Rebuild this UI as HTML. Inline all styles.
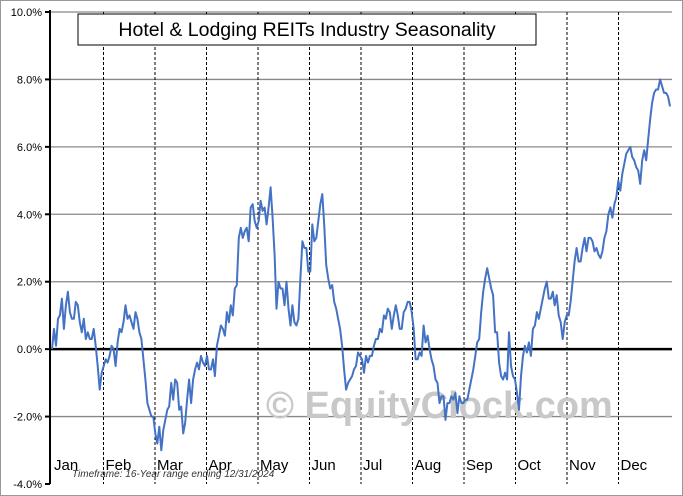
<!DOCTYPE html>
<html><head><meta charset="utf-8"><style>
body{margin:0;background:#fff}
svg{display:block;font-family:"Liberation Sans",sans-serif}
</style></head><body>
<svg width="683" height="496" id="c">
<rect x="0.5" y="0.5" width="682" height="495" fill="#fff" stroke="#999"/>
<g id="grid"></g>
<text x="266" y="418" font-size="38" font-weight="bold" fill="#c8c8c8">© EquityClock.com</text>
<g id="plot"></g>
<rect x="78" y="14" width="458" height="31" fill="#fff" stroke="#000"/>
<text x="307" y="36" font-size="19.5" text-anchor="middle">Hotel &amp; Lodging REITs Industry Seasonality</text>
<text x="72" y="477" font-size="10" font-style="italic" fill="#333">Timeframe:  16-Year range ending 12/31/2024</text>
</svg>
<script>
const months=["Jan","Feb","Mar","Apr","May","Jun","Jul","Aug","Sep","Oct","Nov","Dec"];
const yTicks=[-4,-2,0,2,4,6,8,10];
const values=[0,0.6,0.1,0.9,1.0,1.5,0.6,1.3,1.7,1.1,0.9,0.9,1.4,1.3,0.8,0.5,0.9,0.3,0.5,0.3,0.3,0.6,0.1,-0.5,-1.2,-0.7,
-0.5,-0.3,-0.4,-0.2,0.1,0,-0.5,0.2,0.6,0.5,0.8,1.3,0.9,1.0,0.8,0.6,1.1,0.9,0.5,0.3,-0.3,-0.9,-1.6,-1.8,-2.0,-2.0,
-2.5,-2.8,-2.3,-3.0,-2.4,-2.1,-1.8,-1.7,-1.0,-1.5,-0.9,-1.0,-1.8,-1.7,-2.5,-2.2,-1.5,-0.9,-1.6,-0.9,-0.6,-0.4,-0.6,-0.2,-0.4,-0.5,
-0.2,-0.6,-0.6,-0.3,-0.8,0.1,0.4,0.7,0.6,0.4,1.1,0.8,1.3,1.0,1.8,1.9,3.3,3.6,3.3,3.5,3.6,3.2,4.2,4.3,3.8,3.6,
3.8,4.4,4.1,4.2,3.7,4.2,4.8,3.9,2.8,1.2,2.0,1.8,1.8,1.3,2.0,1.2,0.7,1.3,0.8,0.7,0.9,2.1,3.2,3.0,3.0,2.3,
2.3,3.7,3.2,3.3,3.8,4.3,4.6,3.7,2.5,2.1,1.8,1.9,1.4,1.2,0.9,0.6,0.1,-0.6,-1.2,-1.0,-0.9,-0.8,-0.6,-0.5,-0.1,-0.2,
-0.3,-0.7,-0.2,-0.4,-0.2,-0.2,0.1,0.3,0.3,0.6,0.5,1.0,0.9,1.2,1.1,0.6,1.0,1.3,1.0,0.6,0.6,1.1,1.2,1.4,1.4,1.1,
0.6,-0.3,-0.3,-0.1,-0.2,0.7,0.2,0.4,0.0,-0.3,-0.5,-0.9,-1.0,-1.6,-1.4,-1.4,-2.1,-1.6,-1.6,-1.4,-1.5,-1.3,-1.9,-1.4,-1.6,-1.6,
-1.5,-1.5,-1.2,-0.9,-0.6,-0.2,0.2,0.3,1.1,1.7,2.1,2.4,2.1,1.8,1.6,0.5,0.5,-0.4,-0.8,-0.9,-0.7,-0.9,0.5,-0.5,-0.8,-0.9,
-1.3,-1.8,-0.8,-0.2,0.1,-0.1,0.2,-0.2,0.6,0.7,1.1,0.9,1.2,1.5,1.8,2.0,1.5,1.5,1.7,1.3,1.6,1.0,0.8,0.3,0.8,1.0,
1.0,1.4,2.0,2.6,3.0,2.6,2.6,3.0,3.3,2.9,3.3,3.3,3.2,2.9,3.0,2.8,2.7,2.9,3.3,3.5,4.0,4.2,3.9,4.3,4.5,5.0,
4.7,5.2,5.5,5.8,5.9,6.0,5.7,5.6,5.4,5.3,4.9,5.6,5.9,5.6,6.2,6.8,7.3,7.6,7.7,7.7,8.0,7.8,7.6,7.6,7.5,7.2];
const L=50,R=672,T=12,B=484,X0=52,X1=670;
const y=v=>B-(v-(-4))/14*(B-T);
const x=i=>X0+i*(X1-X0)/(values.length-1);
const mx=m=>X0+m*(X1-X0)/12;
const NS="http://www.w3.org/2000/svg";
const g=document.getElementById('grid'),p=document.getElementById('plot');
function mk(tag,at,par){const e=document.createElementNS(NS,tag);for(const k in at)e.setAttribute(k,at[k]);par.appendChild(e);return e;}
yTicks.forEach(t=>{
  if(t!==0&&t!==-4){const l=mk('line',{x1:L,x2:R,y1:y(t),y2:y(t),stroke:'#888','stroke-width':1.3},g);
  
  }
  const tk=mk('line',{x1:L-5,x2:L,y1:y(t),y2:y(t),stroke:'#000','stroke-width':2},g);
  
  
  const tx=mk('text',{x:L-8,y:y(t)+4,'font-size':11,'text-anchor':'end'},g);
  tx.textContent=t.toFixed(1)+'%';
  
  
});
months.forEach((m,i)=>{
  if(i>0){const l=mk('line',{x1:mx(i),x2:mx(i),y1:T,y2:B,stroke:'#000','stroke-dasharray':'3,2','stroke-width':1},g);
  
  }
  const tx=mk('text',{x:mx(i)+2,y:470,'font-size':15},g);
  tx.textContent=m;
  
  
});
const ya=mk('line',{x1:L,x2:L,y1:T-2,y2:B,stroke:'#000','stroke-width':2},p);


const za=mk('line',{x1:L,x2:R,y1:y(0),y2:y(0),stroke:'#000','stroke-width':2.5},p);


const path=mk('polyline',{points:values.map((v,i)=>x(i).toFixed(1)+','+y(v).toFixed(1)).join(' '),fill:'none',stroke:'#4472c4','stroke-width':2,'stroke-linejoin':'round'},p);


</script>
</body></html>
